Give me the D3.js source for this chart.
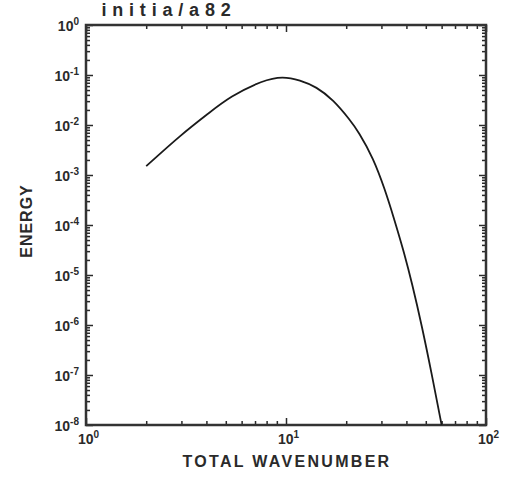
<!DOCTYPE html>
<html>
<head>
<meta charset="utf-8">
<script src="https://cdn.jsdelivr.net/npm/d3@7"></script>
<style>
  body { margin: 0; background: #fff; }
  svg { font-family: "Liberation Sans", Arial, sans-serif; font-weight: bold; }
  .lbl { fill: #2a2a2a; }
</style>
</head>
<body>
<div id="chart"></div>
<script>
// values
const wavenumber = [2, 3, 4.12, 5.25, 7.67, 9.66, 11.75, 14.2, 17.2, 20.9, 23.0, 27.3, 31.3, 34.4, 38.6, 42.7, 47.9, 53.4, 60];
const energy = [1.5e-3, 6.5e-3, 1.74e-2, 3.7e-2, 7.9e-2, 9.4e-2, 7.9e-2, 5.8e-2, 3.2e-2, 1.26e-2, 7.4e-3, 2.2e-3, 5.0e-4, 1.5e-4, 3.2e-5, 6.8e-6, 9.2e-7, 1.1e-7, 1e-8];
const xDecades = [0, 1, 2];
const yDecades = [0, -1, -2, -3, -4, -5, -6, -7, -8];
const titleText = "initia/a82";
const xTitle = "TOTAL WAVENUMBER";
const yTitle = "ENERGY";

const w = 515, h = 486;
const pL = 86, pR = 486, pT = 25, pB = 425;

const svg = d3.select("#chart").append("svg")
  .attr("width", w).attr("height", h);

const xScale = d3.scaleLog().domain([1, 100]).range([pL, pR]);
const yScale = d3.scaleLog().domain([1e-8, 1]).range([pB, pT]);

const xMajor = xDecades.map(e => Math.pow(10, e));
const yMajor = yDecades.map(e => Math.pow(10, e));
const xMinor = [], yMinor = [];
for (let e = 0; e < 2; e++) for (let m = 2; m <= 9; m++) xMinor.push(m * Math.pow(10, e));
for (let e = -8; e < 0; e++) for (let m = 2; m <= 9; m++) yMinor.push(m * Math.pow(10, e));

function ticks(axis, vals, size, transform) {
  const g = svg.append("g")
    .attr("transform", transform)
    .call(axis.tickValues(vals).tickSize(size).tickFormat(""));
  g.select(".domain").remove();
  g.selectAll("line").attr("stroke", "#2a2a2a").attr("stroke-width", 1.5);
}
// ticks point into the frame on all four sides
ticks(d3.axisBottom(xScale), xMajor, -7, `translate(0,${pB})`);
ticks(d3.axisBottom(xScale), xMinor, -4, `translate(0,${pB})`);
ticks(d3.axisTop(xScale), xMajor, -7, `translate(0,${pT})`);
ticks(d3.axisTop(xScale), xMinor, -4, `translate(0,${pT})`);
ticks(d3.axisLeft(yScale), yMajor, -7, `translate(${pL},0)`);
ticks(d3.axisLeft(yScale), yMinor, -4, `translate(${pL},0)`);
ticks(d3.axisRight(yScale), yMajor, -7, `translate(${pR},0)`);
ticks(d3.axisRight(yScale), yMinor, -4, `translate(${pR},0)`);

svg.append("rect")
  .attr("x", pL).attr("y", pT)
  .attr("width", pR - pL).attr("height", pB - pT)
  .attr("fill", "none").attr("stroke", "#333").attr("stroke-width", 2.5);

const line = d3.line()
  .x((d, i) => xScale(wavenumber[i]))
  .y(d => yScale(d))
  .curve(d3.curveBasis);

svg.append("path")
  .datum(energy)
  .attr("d", line)
  .attr("fill", "none")
  .attr("stroke", "#1a1a1a")
  .attr("stroke-width", 1.8);

// y tick labels
const yl = svg.append("g").selectAll("text").data(yDecades).enter()
  .append("text").attr("class", "lbl")
  .attr("x", 79).attr("y", d => yScale(Math.pow(10, d)) + 6)
  .attr("text-anchor", "end").style("font-size", "14px");
yl.append("tspan").text("10");
yl.append("tspan").attr("dy", -6).style("font-size", "10px").text(d => d === 0 ? "0" : "-" + (-d));

// x tick labels
const xl = svg.append("g").selectAll("text").data(xDecades).enter()
  .append("text").attr("class", "lbl")
  .attr("x", d => xScale(Math.pow(10, d)) - 8).attr("y", 444)
  .style("font-size", "14px");
xl.append("tspan").text("10");
xl.append("tspan").attr("dy", -6).style("font-size", "10px").text(d => d);

svg.append("text").attr("class", "lbl")
  .attr("x", 169).attr("y", 16)
  .attr("text-anchor", "middle")
  .style("font-size", "18px").style("letter-spacing", "5.8px")
  .text(titleText);

svg.append("text").attr("class", "lbl")
  .attr("x", 287).attr("y", 467)
  .attr("text-anchor", "middle")
  .style("font-size", "16px").style("letter-spacing", "2.3px")
  .text(xTitle);

svg.append("text").attr("class", "lbl")
  .attr("transform", "translate(32,221) rotate(-90)")
  .attr("text-anchor", "middle")
  .style("font-size", "16px").style("letter-spacing", "1px")
  .text(yTitle);
</script>
</body>
</html>
